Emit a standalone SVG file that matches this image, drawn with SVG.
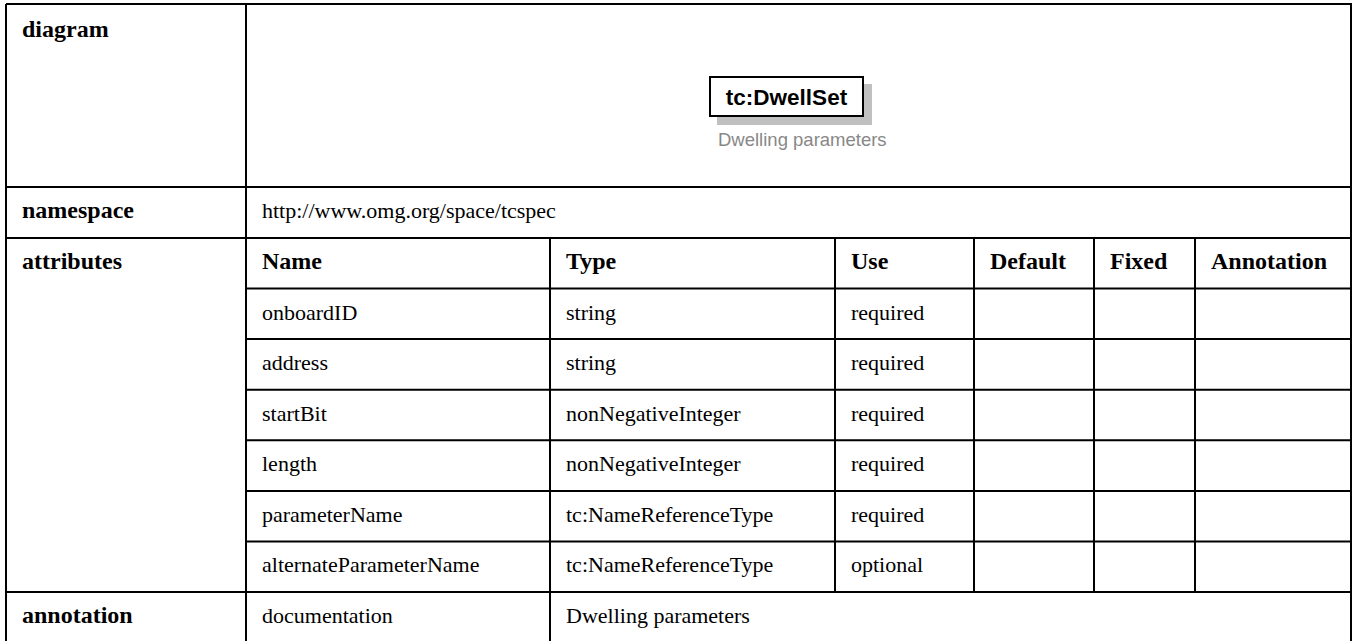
<svg xmlns="http://www.w3.org/2000/svg" width="1356" height="641" viewBox="0 0 1356 641">
<style>
.ln{stroke:#000;stroke-width:2;fill:none}
.lb{font-family:"Liberation Serif",serif;font-weight:bold;font-size:24px;fill:#000}
.tx{font-family:"Liberation Serif",serif;font-size:22px;fill:#000}
.nd{font-family:"Liberation Sans",Arial,sans-serif;font-weight:bold;font-size:22.5px;fill:#000}
.ds{font-family:"Liberation Sans",Arial,sans-serif;font-size:18.5px;fill:#888}
</style>
<rect width="1356" height="641" fill="#fff"/>
<g id="grid">
<path class="ln" d="M6,4H1351V646M6,4V646M5,187H1351M5,238H1351M5,592H1351M246,4V646"/>
<path class="ln" d="M246,288.6H1351M246,339.1H1351M246,389.7H1351M246,440.3H1351M246,490.9H1351M246,541.4H1351"/>
<path class="ln" d="M550,238V646M835,238V592M974,238V592M1094,238V592M1195,238V592"/>
</g>
<g id="labels">
<text class="lb" x="22" y="37">diagram</text>
<text class="lb" x="22" y="218">namespace</text>
<text class="lb" x="22" y="269">attributes</text>
<text class="lb" x="22" y="623">annotation</text>
</g>
<g id="namespace"><text class="tx" x="262" y="218">http://www.omg.org/space/tcspec</text></g>
<g id="attr-header">
<text class="lb" x="262" y="269">Name</text>
<text class="lb" x="566" y="269">Type</text>
<text class="lb" x="851" y="269">Use</text>
<text class="lb" x="990" y="269">Default</text>
<text class="lb" x="1110" y="269">Fixed</text>
<text class="lb" x="1211" y="269">Annotation</text>
</g>
<g id="attr-rows">
<text class="tx" x="262" y="320">onboardID</text><text class="tx" x="566" y="320">string</text><text class="tx" x="851" y="320">required</text>
<text class="tx" x="262" y="370">address</text><text class="tx" x="566" y="370">string</text><text class="tx" x="851" y="370">required</text>
<text class="tx" x="262" y="421">startBit</text><text class="tx" x="566" y="421">nonNegativeInteger</text><text class="tx" x="851" y="421">required</text>
<text class="tx" x="262" y="471">length</text><text class="tx" x="566" y="471">nonNegativeInteger</text><text class="tx" x="851" y="471">required</text>
<text class="tx" x="262" y="522">parameterName</text><text class="tx" x="566" y="522">tc:NameReferenceType</text><text class="tx" x="851" y="522">required</text>
<text class="tx" x="262" y="572">alternateParameterName</text><text class="tx" x="566" y="572">tc:NameReferenceType</text><text class="tx" x="851" y="572">optional</text>
</g>
<g id="annotation">
<text class="tx" x="262" y="623">documentation</text>
<text class="tx" x="566" y="623">Dwelling parameters</text>
</g>
<g id="node-DwellSet">
<rect x="717" y="84" width="155" height="41" fill="#c0c0c0"/>
<rect x="710" y="77" width="153" height="39" fill="#fff" stroke="#000" stroke-width="2"/>
<text class="nd" x="786.5" y="105" text-anchor="middle">tc:DwellSet</text>
<text class="ds" x="718" y="146">Dwelling parameters</text>
</g>
<g id="connectors"/>
</svg>
